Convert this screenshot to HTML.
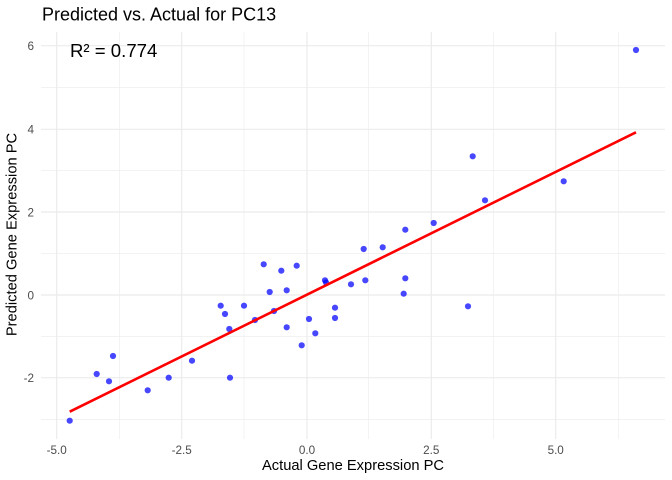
<!DOCTYPE html>
<html><head><meta charset="utf-8"><style>
html,body{margin:0;padding:0;background:#fff;}
svg{display:block;}
text{font-family:"Liberation Sans",Arial,sans-serif;}
</style></head><body>
<svg width="672" height="480" viewBox="0 0 672 480" xmlns="http://www.w3.org/2000/svg">
<rect width="672" height="480" fill="#fff"/>
<g stroke="#ebebeb" stroke-width="0.6" fill="none">
<line x1="41" x2="665" y1="87.7" y2="87.7"/>
<line x1="41" x2="665" y1="170.7" y2="170.7"/>
<line x1="41" x2="665" y1="253.3" y2="253.3"/>
<line x1="41" x2="665" y1="336.3" y2="336.3"/>
<line x1="41" x2="665" y1="419.3" y2="419.3"/>
<line y1="32" y2="439" x1="119.3" x2="119.3"/>
<line y1="32" y2="439" x1="244" x2="244"/>
<line y1="32" y2="439" x1="368.7" x2="368.7"/>
<line y1="32" y2="439" x1="493.3" x2="493.3"/>
<line y1="32" y2="439" x1="618.3" x2="618.3"/>
</g>
<g stroke="#ebebeb" stroke-width="1.2" fill="none">
<line x1="41" x2="665" y1="45.7" y2="45.7"/>
<line x1="41" x2="665" y1="129.3" y2="129.3"/>
<line x1="41" x2="665" y1="212" y2="212"/>
<line x1="41" x2="665" y1="295" y2="295"/>
<line x1="41" x2="665" y1="377.7" y2="377.7"/>
<line y1="32" y2="439" x1="56.7" x2="56.7"/>
<line y1="32" y2="439" x1="181.7" x2="181.7"/>
<line y1="32" y2="439" x1="307" x2="307"/>
<line y1="32" y2="439" x1="431.3" x2="431.3"/>
<line y1="32" y2="439" x1="555.7" x2="555.7"/>
</g>
<g fill="#0000ff" fill-opacity="0.72">
<circle cx="69.7" cy="420.7" r="3.1"/>
<circle cx="96.7" cy="374" r="3.1"/>
<circle cx="109" cy="381.3" r="3.1"/>
<circle cx="113" cy="356" r="3.1"/>
<circle cx="147.7" cy="390.3" r="3.1"/>
<circle cx="168.7" cy="377.7" r="3.1"/>
<circle cx="192" cy="360.7" r="3.1"/>
<circle cx="220.7" cy="305.7" r="3.1"/>
<circle cx="225" cy="314" r="3.1"/>
<circle cx="229.3" cy="329" r="3.1"/>
<circle cx="230" cy="377.7" r="3.1"/>
<circle cx="244" cy="305.7" r="3.1"/>
<circle cx="255" cy="320" r="3.1"/>
<circle cx="263.7" cy="264.3" r="3.1"/>
<circle cx="269.7" cy="292" r="3.1"/>
<circle cx="274" cy="311" r="3.1"/>
<circle cx="281.3" cy="270.7" r="3.1"/>
<circle cx="286.7" cy="290.3" r="3.1"/>
<circle cx="286.7" cy="327.3" r="3.1"/>
<circle cx="296.7" cy="265.7" r="3.1"/>
<circle cx="301.7" cy="345.3" r="3.1"/>
<circle cx="309" cy="319" r="3.1"/>
<circle cx="315.3" cy="333.3" r="3.1"/>
<circle cx="325" cy="280.3" r="3.1"/>
<circle cx="326" cy="282.5" r="3.1"/>
<circle cx="335" cy="307.7" r="3.1"/>
<circle cx="335" cy="318" r="3.1"/>
<circle cx="351" cy="284.3" r="3.1"/>
<circle cx="363.7" cy="249" r="3.1"/>
<circle cx="365.3" cy="280.3" r="3.1"/>
<circle cx="382.7" cy="247.3" r="3.1"/>
<circle cx="403.7" cy="293.7" r="3.1"/>
<circle cx="405.3" cy="278.3" r="3.1"/>
<circle cx="405.3" cy="229.7" r="3.1"/>
<circle cx="433.7" cy="223" r="3.1"/>
<circle cx="468" cy="306.3" r="3.1"/>
<circle cx="472.7" cy="156.3" r="3.1"/>
<circle cx="485" cy="200.3" r="3.1"/>
<circle cx="563.7" cy="181.3" r="3.1"/>
<circle cx="636" cy="50" r="3.1"/>
</g>
<line x1="69.7" y1="411.7" x2="636" y2="132.3" stroke="#ff0000" stroke-width="2.6"/>
<g fill="#4d4d4d" font-size="11.7" text-anchor="end">
<text x="34" y="50">6</text>
<text x="34" y="133.5">4</text>
<text x="34" y="216.3">2</text>
<text x="34" y="299.3">0</text>
<text x="34" y="382">-2</text>
</g>
<g fill="#4d4d4d" font-size="11.7" text-anchor="middle">
<text x="56.7" y="454">-5.0</text>
<text x="181.7" y="454">-2.5</text>
<text x="307" y="454">0.0</text>
<text x="431.3" y="454">2.5</text>
<text x="555.7" y="454">5.0</text>
</g>
<text x="353" y="470" font-size="14.7" text-anchor="middle" fill="#000">Actual Gene Expression PC</text>
<text transform="translate(16.5,234.5) rotate(-90)" font-size="14.7" text-anchor="middle" fill="#000">Predicted Gene Expression PC</text>
<text x="42" y="20.5" font-size="18" fill="#000">Predicted vs. Actual for PC13</text>
<text x="70" y="57" font-size="18.6" fill="#000">R² = 0.774</text>
</svg>
</body></html>
